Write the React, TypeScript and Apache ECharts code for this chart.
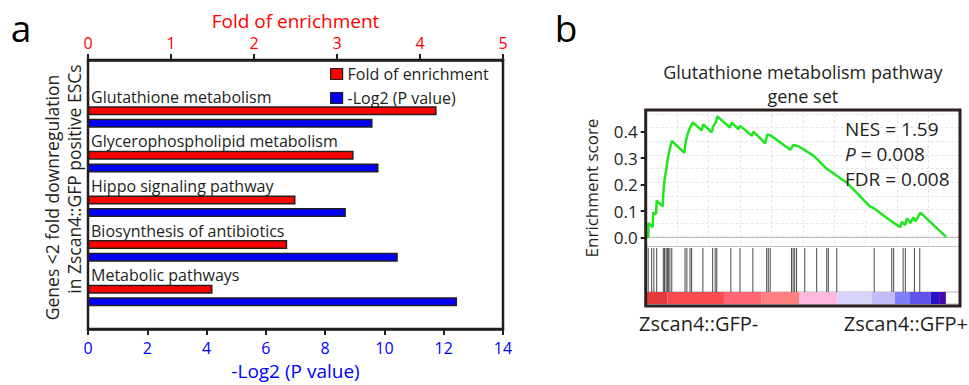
import React, { useEffect, useRef } from 'react';
import * as echarts from 'echarts';

// ---------- Panel a data ----------
const categories = [
  'Glutathione metabolism',
  'Glycerophospholipid metabolism',
  'Hippo signaling pathway',
  'Biosynthesis of antibiotics',
  'Metabolic pathways',
];
const foldEnrichment = [4.2, 3.2, 2.5, 2.4, 1.5];
const negLog2P = [9.6, 9.8, 8.7, 10.45, 12.45];
const foldTicks = [0, 1, 2, 3, 4, 5];
const log2Ticks = [0, 2, 4, 6, 8, 10, 12, 14];

// ---------- Panel b data (rank as % of box width) ----------
const esRank = [0.8, 0.9, 2.2, 2.4, 3.3, 3.5, 5.4, 5.6, 5.9, 6.5, 6.9, 7.5, 8.3, 12.3, 12.7, 13.2, 13.9, 15.0, 17.8, 18.3,
  21.0, 21.5, 22.4, 22.8, 26.8, 27.4, 29.5, 30.0, 33.8, 34.3, 38.0, 38.7, 39.9, 46.0, 47.0, 48.6, 53.4, 57.6, 59.7, 62.9,
  64.0, 71.4, 72.5, 77.8, 81.0, 81.5, 82.6, 83.1, 84.2, 85.2, 85.8, 87.4, 95.6];
const esScore = [0, 0.055, 0.04, 0.095, 0.09, 0.14, 0.118, 0.165, 0.21, 0.255, 0.29, 0.327, 0.365, 0.32, 0.36, 0.385, 0.41, 0.435, 0.405, 0.428,
  0.398, 0.42, 0.438, 0.458, 0.416, 0.434, 0.41, 0.422, 0.385, 0.4, 0.356, 0.39, 0.385, 0.332, 0.35, 0.345, 0.31, 0.26, 0.243, 0.216,
  0.208, 0.117, 0.112, 0.065, 0.04, 0.06, 0.048, 0.073, 0.055, 0.077, 0.062, 0.095, 0.003];
const hitRank = [0.8, 1.9, 2.6, 3.5, 5.6, 6.0, 6.5, 6.9, 7.2, 7.7, 8.3, 12.5, 13.1, 14.1, 14.6, 18.2, 21.3, 22.1, 22.6, 27.1,
  30.0, 34.1, 38.5, 39.0, 39.6, 46.4, 46.9, 47.4, 48.0, 50.6, 54.4, 57.6, 58.1, 60.8, 72.7, 78.3, 78.9, 81.9, 82.6, 85.5, 87.2];
const colorEdges = [0.3, 6.9, 24.9, 36.9, 48.9, 61.0, 71.9, 79.3, 84.1, 90.7, 93.6, 95.5];
const colorBlocks = ['#e43a3c', '#f94b50', '#ff6675', '#ff8080', '#ffb9de', '#d6d4f8', '#c2bbf6', '#7f7ff8', '#6252ec', '#2a12c6', '#4a06a6'];
const esTicks = [0, 0.1, 0.2, 0.3, 0.4];
const statLines = ['NES = 1.59', '{i|P} = 0.008', 'FDR = 0.008'];

const FONT = '"Open Sans", "Noto Sans", sans-serif';
const INK = '#231f20';
const RED = '#ff0000';
const BLUE = '#0000ff';

export default function App() {
  const ref = useRef<HTMLDivElement>(null);
  useEffect(() => {
    document.body.style.margin = '0';
    const chart = echarts.init(ref.current!, null, { renderer: 'svg' });
    const hidden = { show: false };
    const option: any = {
      animation: false,
      textStyle: { fontFamily: FONT, color: INK },
      legend: {
        orient: 'vertical', left: 330, top: 66, padding: 0, itemWidth: 12, itemHeight: 11, itemGap: 8,
        icon: 'rect',
        textStyle: { fontSize: 16, color: INK, fontFamily: FONT },
        data: [
          { name: 'Fold of enrichment', itemStyle: { color: RED, borderColor: INK, borderWidth: 1.2 } },
          { name: '-Log2 (P value)', itemStyle: { color: BLUE, borderColor: INK, borderWidth: 1.2 } },
        ],
      },
      grid: [
        { left: 88, top: 60, width: 415, height: 270, show: true, borderColor: INK, borderWidth: 2.5 },
        { left: 88, top: 94.7, width: 415, height: 223.1 },
        { left: 645.7, top: 110, width: 314.3, height: 196, show: true, borderColor: '#2b2220', borderWidth: 3, z: 10 },
        { left: 645.7, top: 110, width: 314.3, height: 136 },
        { left: 645.7, top: 114, width: 314.3, height: 122.7 },
        { left: 645.7, top: 246, width: 314.3, height: 46 },
        { left: 645.7, top: 292, width: 314.3, height: 12, show: true, borderColor: '#b0b0b0', borderWidth: 1 },
      ],
      xAxis: [
        {
          gridIndex: 0, type: 'value', position: 'top', min: 0, max: 5, interval: 1,
          axisLine: { show: true, onZero: false, lineStyle: { color: INK, width: 2.5 } },
          axisTick: { show: true, customValues: foldTicks, length: 6, lineStyle: { color: INK, width: 2 } },
          axisLabel: { customValues: foldTicks, color: RED, fontSize: 16, margin: 9, fontFamily: FONT },
          splitLine: { show: false },
          name: 'Fold of enrichment', nameLocation: 'middle', nameGap: 30,
          nameTextStyle: { color: RED, fontSize: 19, fontFamily: FONT },
        },
        {
          gridIndex: 0, type: 'value', position: 'bottom', min: 0, max: 14, interval: 2,
          axisLine: { show: true, onZero: false, lineStyle: { color: INK, width: 2.5 } },
          axisTick: { show: true, customValues: log2Ticks, length: 6, lineStyle: { color: INK, width: 2 } },
          axisLabel: { customValues: log2Ticks, color: BLUE, fontSize: 16, margin: 11, fontFamily: FONT },
          splitLine: { show: false },
          name: '-Log2 (P value)', nameLocation: 'middle', nameGap: 31,
          nameTextStyle: { color: BLUE, fontSize: 19, fontFamily: FONT },
        },
        { gridIndex: 1, type: 'value', min: 0, max: 5, ...hidden },
        { gridIndex: 1, type: 'value', min: 0, max: 14, ...hidden },
        { gridIndex: 2, type: 'value', min: 0, max: 100, ...hidden },
        {
          gridIndex: 3, type: 'value', min: 0, max: 100, interval: 10, position: 'bottom',
          axisLine: { show: true, onZero: false, lineStyle: { color: '#c4c4c4', width: 1 } },
          axisTick: { show: false }, axisLabel: { show: false },
          splitLine: { show: true, lineStyle: { color: '#e6e6e6', type: [3, 2], width: 1 } },
        },
        { gridIndex: 4, type: 'value', min: 0, max: 100, ...hidden },
        { gridIndex: 5, type: 'value', min: 0, max: 100, ...hidden },
        { gridIndex: 6, type: 'value', min: 0, max: 100, ...hidden },
      ],
      yAxis: [
        { gridIndex: 0, type: 'value', min: 0, max: 1, ...hidden },
        { gridIndex: 1, type: 'category', data: categories, inverse: true, ...hidden },
        { gridIndex: 2, type: 'value', min: 0, max: 1, ...hidden },
        {
          gridIndex: 3, type: 'value', min: -0.0313, max: 0.482,
          axisLine: { show: false, onZero: false },
          axisTick: { show: true, customValues: esTicks, length: 5, lineStyle: { color: INK, width: 2 } },
          axisLabel: {
            show: true, customValues: esTicks, fontSize: 17, margin: 8, color: INK, fontFamily: FONT,
            formatter: (v: number) => v.toFixed(1),
          },
          splitLine: { show: false },
        },
        {
          gridIndex: 4, type: 'value', min: 0, max: 9, interval: 1,
          axisLine: { show: false }, axisTick: { show: false }, axisLabel: { show: false },
          splitLine: { show: true, lineStyle: { color: '#e6e6e6', type: [3, 2], width: 1 } },
        },
        { gridIndex: 5, type: 'value', min: 0, max: 1, ...hidden },
        { gridIndex: 6, type: 'value', min: 0, max: 1, ...hidden },
      ],
      series: [
        {
          name: 'Fold of enrichment', type: 'bar', xAxisIndex: 2, yAxisIndex: 1, data: foldEnrichment,
          barWidth: 9, barGap: '40%',
          itemStyle: { color: RED, borderColor: INK, borderWidth: 1.5 },
          label: {
            show: true, formatter: '{b}', position: [3, -1.5], align: 'left', verticalAlign: 'bottom',
            fontSize: 16, color: INK, fontFamily: FONT,
          },
        },
        {
          name: '-Log2 (P value)', type: 'bar', xAxisIndex: 3, yAxisIndex: 1, data: negLog2P,
          barWidth: 9, barGap: '40%',
          itemStyle: { color: BLUE, borderColor: INK, borderWidth: 1.5 },
        },
        {
          type: 'line', xAxisIndex: 5, yAxisIndex: 3, data: esRank.map((r, i) => [r, esScore[i]]),
          showSymbol: false, symbol: 'none', lineStyle: { color: '#1fe61f', width: 2.5 }, z: 5,
          markLine: {
            silent: true, symbol: 'none', label: { show: false },
            lineStyle: { color: '#bdbdbd', width: 1.2, type: 'solid' },
            data: [{ yAxis: 0 }],
          },
        },
        {
          type: 'custom', xAxisIndex: 7, yAxisIndex: 5, data: hitRank.map((r) => [r, 0]),
          renderItem: (params: any, api: any) => {
            const p0 = api.coord([api.value(0), 0]);
            const p1 = api.coord([api.value(0), 1]);
            return {
              type: 'line',
              shape: { x1: p0[0], y1: p0[1], x2: p1[0], y2: p1[1] + 2 },
              style: { stroke: '#4a4a4a', lineWidth: 1 },
            };
          },
        },
        {
          type: 'custom', xAxisIndex: 8, yAxisIndex: 6,
          data: colorBlocks.map((c, i) => ({ value: [colorEdges[i], colorEdges[i + 1]], itemStyle: { color: c } })),
          renderItem: (params: any, api: any) => {
            const a = api.coord([api.value(0), 1]);
            const b = api.coord([api.value(1), 0]);
            return {
              type: 'rect',
              shape: { x: a[0], y: a[1], width: b[0] - a[0], height: b[1] - a[1] },
              style: { fill: api.visual('color') },
            };
          },
        },
      ],
      graphic: [
        { type: 'text', x: 21, y: 27, style: { text: 'a', fontSize: 37, lineHeight: 37, fontFamily: FONT, fill: '#000', align: 'center', verticalAlign: 'middle' } },
        { type: 'text', x: 566, y: 27, style: { text: 'b', fontSize: 37, lineHeight: 37, fontFamily: FONT, fill: '#000', align: 'center', verticalAlign: 'middle' } },
        { type: 'text', x: 52, y: 197.5, rotation: Math.PI / 2, style: { text: 'Genes <2 fold downregulation', fontSize: 17.5, fontFamily: FONT, fill: INK, align: 'center', verticalAlign: 'middle' } },
        { type: 'text', x: 73.5, y: 179, rotation: Math.PI / 2, style: { text: 'in Zscan4::GFP positive ESCs', fontSize: 17.5, fontFamily: FONT, fill: INK, align: 'center', verticalAlign: 'middle' } },
        { type: 'text', x: 802.8, y: 84, style: { text: 'Glutathione metabolism pathway\ngene set', lineHeight: 23.5, fontSize: 18, fontFamily: FONT, fill: INK, align: 'center', verticalAlign: 'middle' } },
        { type: 'text', x: 591, y: 188, rotation: Math.PI / 2, style: { text: 'Enrichment score', fontSize: 17, fontFamily: FONT, fill: INK, align: 'center', verticalAlign: 'middle' } },
        ...statLines.map((t, i) => ({
          type: 'text', x: 845, y: 129 + i * 25, z: 20,
          style: { text: t, fontSize: 19, fontFamily: FONT, fill: INK, align: 'left', verticalAlign: 'middle', rich: { i: { fontStyle: 'italic', fontSize: 19, fontFamily: FONT, fill: INK } } },
        })),
        { type: 'text', x: 639, y: 323, style: { text: 'Zscan4::GFP-', fontSize: 20, fontFamily: FONT, fill: INK, align: 'left', verticalAlign: 'middle' } },
        { type: 'text', x: 968, y: 323, style: { text: 'Zscan4::GFP+', fontSize: 20, fontFamily: FONT, fill: INK, align: 'right', verticalAlign: 'middle' } },
      ],
    };
    chart.setOption(option);
    return () => chart.dispose();
  }, []);
  return <div ref={ref} style={{ position: 'absolute', left: 0, top: 0, width: 969, height: 385, background: '#fff' }} />;
}
